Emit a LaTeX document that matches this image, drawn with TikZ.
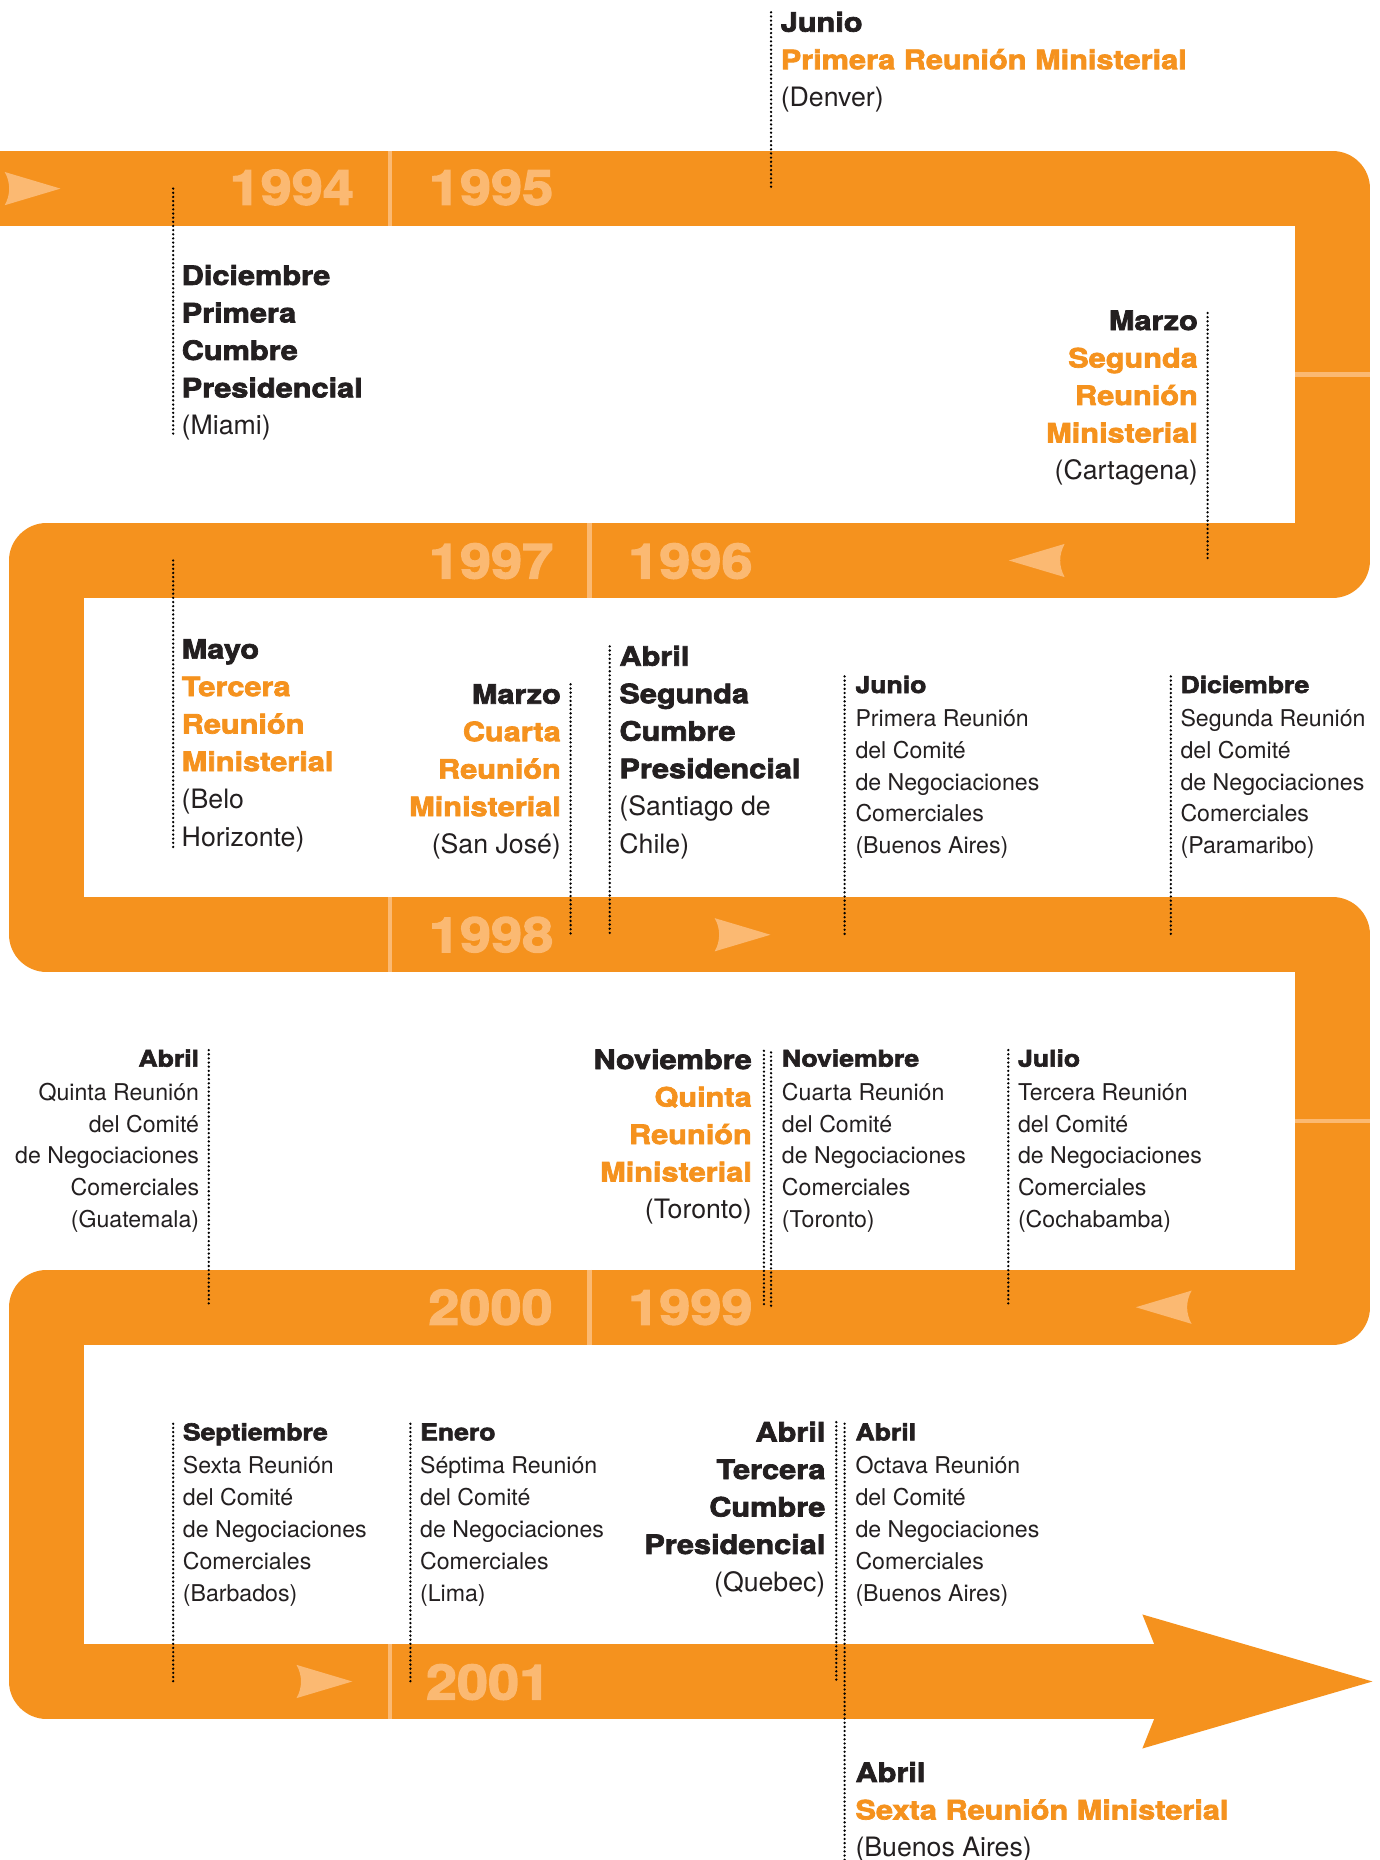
\documentclass[tikz,border=0pt]{standalone}
\usepackage{fontspec}
\setmainfont{TeX Gyre Heros}
\setsansfont{TeX Gyre Heros}
\newfontfamily\heavyfont{TeX Gyre Heros}[UprightFont=* Bold, FakeBold=2.6, FakeStretch=1.15]
\usepackage{xcolor}
\usepackage{tikz}
\usetikzlibrary{positioning}

\definecolor{band}{RGB}{245,146,30}
\definecolor{paleband}{RGB}{251,185,114}
\definecolor{ink}{RGB}{35,31,32}

% heavy black and heavy orange lines of an entry
\newcommand{\hd}[1]{{\heavyfont #1}}
\newcommand{\hl}[1]{{\heavyfont\color{band}#1}}

\begin{document}
\begin{tikzpicture}[
        x=1pt, y=-1pt,
        evA/.style={inner sep=0pt, text=ink, font=\fontsize{22.5}{31.6}\selectfont, yshift=22.12pt},
        evB/.style={inner sep=0pt, text=ink, font=\fontsize{19.5}{26.8}\selectfont, yshift=18.76pt},
        evL/.style={anchor=north west, align=left},
        evR/.style={anchor=north east, align=right},
        year/.style={inner sep=0pt, text=paleband, font=\heavyfont\fontsize{41}{41}\selectfont},
        divider/.style={paleband, line width=3.5pt},
        dotline/.style={black, line width=2.2pt, line cap=round, dash pattern=on 0pt off 3.5pt},
        chevron/.pic={\fill[paleband] (-23.5,-14) -- (23.5,0) -- (-23.5,14) .. controls (-18.5,5) and (-18.5,-5) .. (-23.5,-14) -- cycle;}
    ]
    \fill[white] (0,0) rectangle (1163,1568);
    \useasboundingbox (0,0) rectangle (1163,1568);

    % the winding band
    \draw[band, line width=63pt, line join=round] (0,159) -- (1123.5,159) -- (1123.5,472.5) -- (39.5,472.5) -- (39.5,788) -- (1123.5,788) -- (1123.5,1102) -- (39.5,1102) -- (39.5,1417.5) -- (975,1417.5);
    \fill[band] (963,1361) -- (1157,1417.5) -- (963,1474) -- (973,1449) -- (973,1386) -- cycle;

    \coordinate (row1) at (0,159);
    \coordinate (row2) at (0,472.5);
    \coordinate (row3) at (0,788);
    \coordinate (row4) at (0,1102);
    \coordinate (row5) at (0,1417.5);

    \draw[divider] (329,127.5) -- (329,190.5);
    \draw[divider] (497,441) -- (497,504);
    \draw[divider] (329,756.5) -- (329,819.5);
    \draw[divider] (497,1070.5) -- (497,1133.5);
    \draw[divider] (329,1386) -- (329,1449);
    \draw[divider, line width=4pt] (1092,316) -- (1155,316);
    \draw[divider, line width=4pt] (1092,945) -- (1155,945);

    \pic at (27.5,159) {chevron};
    \pic[rotate=180] at (874,472.5) {chevron};
    \pic at (626,788) {chevron};
    \pic[rotate=180] at (981,1102) {chevron};
    \pic at (273.5,1417.5) {chevron};

    \node[year] (y1994) at (246,158) {1994};
    \node[year] (y1995) at (414,158) {1995};
    \node[year] (y1997) at (414,473) {1997};
    \node[year] (y1996) at (582,473) {1996};
    \node[year] (y1998) at (414,788) {1998};
    \node[year] (y2000) at (413.5,1102) {2000};
    \node[year] (y1999) at (582,1102) {1999};
    \node[year] (y2001) at (411.5,1418) {2001};

    % 1994 - 1995
    \node[evA, evL] (denver) at (658,26.5) {\strut\hd{Junio}\\\hl{Primera Reunión Ministerial}\\(Denver)};
    \node[evA, evL] (miami) at (153,240) {\strut\hd{Diciembre}\\\hd{Primera}\\\hd{Cumbre}\\\hd{Presidencial}\\(Miami)};
    \node[evA, evR] (cartagena) at (1010,278) {\strut\hd{Marzo}\\\hl{Segunda}\\\hl{Reunión}\\\hl{Ministerial}\\(Cartagena)};

    % 1997 - 1998
    \node[evA, evL] (belo) at (153,555) {\strut\hd{Mayo}\\\hl{Tercera}\\\hl{Reunión}\\\hl{Ministerial}\\(Belo\\Horizonte)};
    \node[evA, evR] (sanjose) at (473,593) {\strut\hd{Marzo}\\\hl{Cuarta}\\\hl{Reunión}\\\hl{Ministerial}\\(San José)};
    \node[evA, evL] (santiago) at (522,561) {\strut\hd{Abril}\\\hd{Segunda}\\\hd{Cumbre}\\\hd{Presidencial}\\(Santiago de\\Chile)};
    \node[evB, evL] (buenosaires) at (721,584) {\strut\hd{Junio}\\[1.5pt]Primera Reunión\\del Comité\\de Negociaciones\\Comerciales\\(Buenos Aires)};
    \node[evB, evL] (paramaribo) at (995,584) {\strut\hd{Diciembre}\\[1.5pt]Segunda Reunión\\del Comité\\de Negociaciones\\Comerciales\\(Paramaribo)};

    % 1999 - 2000
    \node[evB, evR] (guatemala) at (168,899) {\strut\hd{Abril}\\[1.5pt]Quinta Reunión\\del Comité\\de Negociaciones\\Comerciales\\(Guatemala)};
    \node[evA, evR] (torontomin) at (634,901) {\strut\hd{Noviembre}\\\hl{Quinta}\\\hl{Reunión}\\\hl{Ministerial}\\(Toronto)};
    \node[evB, evL] (torontocom) at (659,899) {\strut\hd{Noviembre}\\[1.5pt]Cuarta Reunión\\del Comité\\de Negociaciones\\Comerciales\\(Toronto)};
    \node[evB, evL] (cochabamba) at (858,899) {\strut\hd{Julio}\\[1.5pt]Tercera Reunión\\del Comité\\de Negociaciones\\Comerciales\\(Cochabamba)};

    % 2001
    \node[evB, evL] (barbados) at (154,1214) {\strut\hd{Septiembre}\\[1.5pt]Sexta Reunión\\del Comité\\de Negociaciones\\Comerciales\\(Barbados)};
    \node[evB, evL] (lima) at (354,1214) {\strut\hd{Enero}\\[1.5pt]Séptima Reunión\\del Comité\\de Negociaciones\\Comerciales\\(Lima)};
    \node[evA, evR] (quebec) at (696,1215) {\strut\hd{Abril}\\\hd{Tercera}\\\hd{Cumbre}\\\hd{Presidencial}\\(Quebec)};
    \node[evB, evL] (octava) at (721,1214) {\strut\hd{Abril}\\[1.5pt]Octava Reunión\\del Comité\\de Negociaciones\\Comerciales\\(Buenos Aires)};
    \node[evA, evL] (sexta) at (721,1502) {\strut\hd{Abril}\\\hl{Sexta Reunión Ministerial}\\(Buenos Aires)};

    % dotted leaders down to (or up from) the band
    \coordinate (denver-x) at ([xshift=-8pt]denver.north west);
    \coordinate (miami-x) at ([xshift=-7pt]miami.south west);
    \coordinate (cartagena-x) at ([xshift=8pt]cartagena.north east);
    \coordinate (belo-x) at ([xshift=-7pt]belo.south west);
    \coordinate (sanjose-x) at ([xshift=8pt]sanjose.north east);
    \coordinate (santiago-x) at ([xshift=-8pt]santiago.north west);
    \coordinate (buenosaires-x) at ([xshift=-9pt]buenosaires.north west);
    \coordinate (paramaribo-x) at ([xshift=-8pt]paramaribo.north west);
    \coordinate (guatemala-x) at ([xshift=8pt]guatemala.north east);
    \coordinate (torontomin-x) at ([xshift=10pt]torontomin.north east);
    \coordinate (torontocom-x) at ([xshift=-9pt]torontocom.north west);
    \coordinate (cochabamba-x) at ([xshift=-8pt]cochabamba.north west);
    \coordinate (barbados-x) at ([xshift=-8pt]barbados.north west);
    \coordinate (lima-x) at ([xshift=-8pt]lima.north west);
    \coordinate (quebec-x) at ([xshift=9pt]quebec.north east);
    \coordinate (octava-x) at ([xshift=-9pt]octava.north west);

    \draw[dotline] ([yshift=-6pt]denver-x) -- (denver-x |- row1);
    \draw[dotline] (miami-x |- row1) -- ([yshift=3pt]miami-x);
    \draw[dotline] ([yshift=-8pt]cartagena-x) -- (cartagena-x |- row2);
    \draw[dotline] (belo-x |- row2) -- ([yshift=3pt]belo-x);
    \draw[dotline] ([yshift=-6pt]sanjose-x) -- (sanjose-x |- row3);
    \draw[dotline] ([yshift=-6pt]santiago-x) -- (santiago-x |- row3);
    \draw[dotline] ([yshift=-5pt]buenosaires-x) -- (buenosaires-x |- row3);
    \draw[dotline] ([yshift=-5pt]paramaribo-x) -- (paramaribo-x |- row3);
    \draw[dotline] ([yshift=-5pt]guatemala-x) -- (guatemala-x |- row4);
    \draw[dotline] ([yshift=-7pt]torontomin-x) -- (torontomin-x |- row4);
    \draw[dotline] ([yshift=-7pt]torontocom-x) -- (torontocom-x |- row4);
    \draw[dotline] ([yshift=-5pt]cochabamba-x) -- (cochabamba-x |- row4);
    \draw[dotline] ([yshift=-5pt]barbados-x) -- (barbados-x |- row5);
    \draw[dotline] ([yshift=-5pt]lima-x) -- (lima-x |- row5);
    \draw[dotline] ([yshift=-6pt]quebec-x) -- (quebec-x |- row5);
    \draw[dotline] ([yshift=-5pt]octava-x) -- (octava-x |- sexta.south);
\end{tikzpicture}
\end{document}
